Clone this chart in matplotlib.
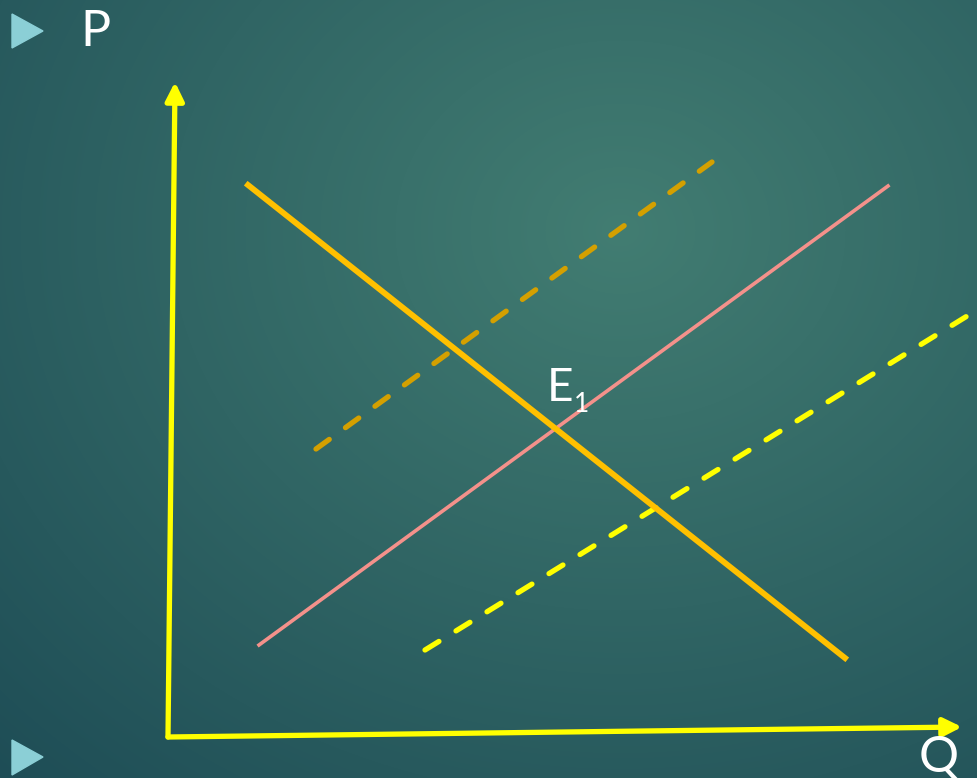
import numpy as np
import matplotlib.pyplot as plt
from matplotlib.colors import to_rgb
from matplotlib.patches import Polygon

W, H = 977, 778
# origin of the P-Q diagram, in pixels from the top-left corner
ORIGIN = (168, 737)

# curves in (Q, P) units
demand_q = [80, 677]
demand_p = [552, 79]
supply_q = [91, 720]
supply_p = [92, 551]
supply_left_q = [148, 544]
supply_left_p = [288, 575]
supply_right_q = [257, 830]
supply_right_p = [87, 440]

# axes drawn by hand (slightly skewed, like the slide)
p_axis_q = [0, 7]
p_axis_p = [0, 640]
q_axis_q = [0, 780]
q_axis_p = [0, 10]

eq_label_q, eq_label_p = 379, 336


def background(ax):
    yy, xx = np.mgrid[0:H, 0:W]
    d = np.sqrt(((xx - 620) / 900.0) ** 2 + ((yy - 230) / 760.0) ** 2)
    d = np.clip(d, 0, 1)
    inner = np.array(to_rgb("#427d72"))
    outer = np.array(to_rgb("#1e4d56"))
    img = inner[None, None, :] * (1 - d[..., None]) + outer[None, None, :] * d[..., None]
    ax.imshow(img, extent=(-ORIGIN[0], W - ORIGIN[0], -(H - ORIGIN[1]), ORIGIN[1]),
              aspect="auto", zorder=0, interpolation="bilinear")


def main():
    fig = plt.figure(figsize=(W / 100, H / 100), dpi=100)
    ax = fig.add_axes([0, 0, 1, 1])
    ax.set_xlim(-ORIGIN[0], W - ORIGIN[0])
    ax.set_ylim(-(H - ORIGIN[1]), ORIGIN[1])
    ax.axis("off")
    background(ax)

    # P and Q axes with arrow heads
    ax.annotate("", xy=(p_axis_q[1], p_axis_p[1] + 15), xytext=(p_axis_q[0], p_axis_p[0]),
                arrowprops=dict(arrowstyle="-|>,head_length=1.1,head_width=0.55",
                                color="#ffff00", lw=3.8, shrinkA=0, shrinkB=0), zorder=3)
    ax.annotate("", xy=(q_axis_q[1] + 14, q_axis_p[1]), xytext=(q_axis_q[0], q_axis_p[0]),
                arrowprops=dict(arrowstyle="-|>,head_length=1.1,head_width=0.55",
                                color="#ffff00", lw=3.8, shrinkA=0, shrinkB=0), zorder=3)

    ax.plot(supply_left_q, supply_left_p, color="#d4a000", lw=3.8,
            dashes=(3.1, 3.8), dash_capstyle="round", zorder=2)
    ax.plot(supply_right_q, supply_right_p, color="#ffff00", lw=3.8,
            dashes=(3.1, 3.8), dash_capstyle="round", zorder=2)
    ax.plot(supply_q, supply_p, color="#f4918b", lw=2.6, zorder=3)
    ax.plot(demand_q, demand_p, color="#ffc000", lw=4.2, zorder=4)

    ax.text(eq_label_q, eq_label_p, "E", color="white", fontsize=33,
            family="Lato", ha="left", va="baseline", zorder=5)
    ax.text(eq_label_q + 27, eq_label_p - 11, "1", color="white", fontsize=19,
            family="Lato", ha="left", va="baseline", zorder=5)

    # slide decorations: bullets and axis letters
    ax.text(-88, 691, "P", color="white", fontsize=36, family="Lato",
            ha="left", va="baseline")
    ax.text(751, -35, "Q", color="white", fontsize=36, family="Lato",
            ha="left", va="baseline")
    bullet = "#8bcfd6"
    ax.add_patch(Polygon([(-156, 723), (-156, 689), (-125, 706)], closed=True,
                         color=bullet, zorder=5))
    ax.add_patch(Polygon([(-156, -3), (-156, -38), (-125, -20)], closed=True,
                         color=bullet, zorder=5))

    fig.savefig("out.png", dpi=100)
    plt.close(fig)


if __name__ == "__main__":
    main()
